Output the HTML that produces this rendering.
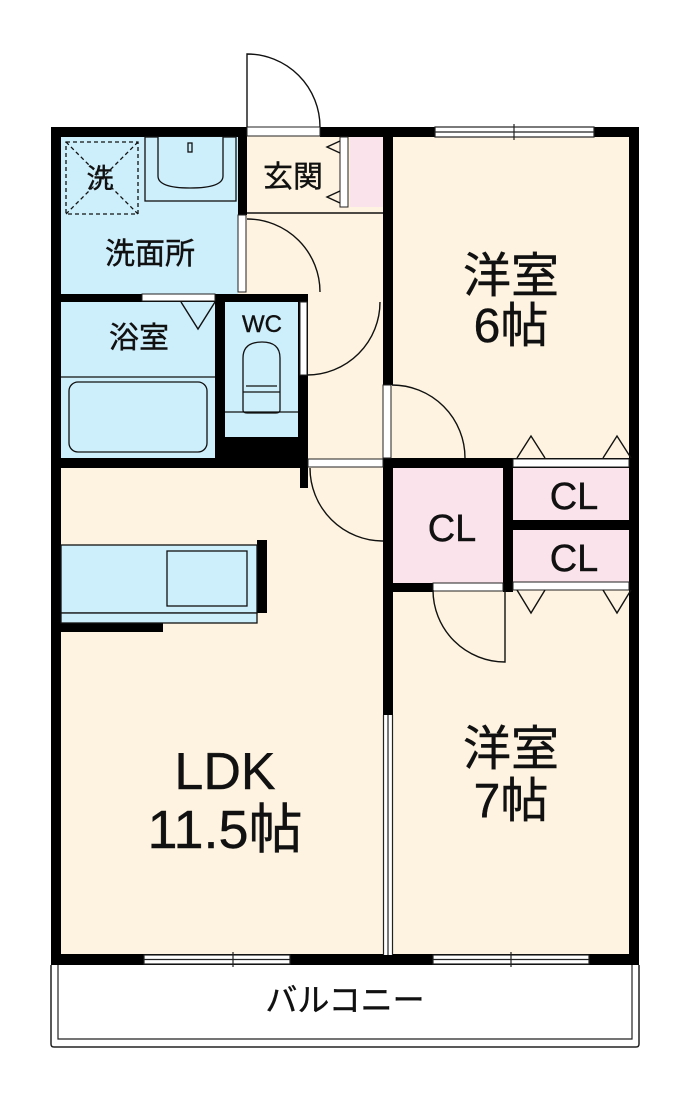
<!DOCTYPE html>
<html><head><meta charset="utf-8"><style>
html,body{margin:0;padding:0;background:#fff;}
svg{display:block;}
text{font-family:"Liberation Sans","Noto Sans CJK JP",sans-serif;fill:#111;text-anchor:middle;stroke:#111;stroke-width:0.4;}
</style></head><body>
<svg width="700" height="1120" viewBox="0 0 700 1120" xmlns="http://www.w3.org/2000/svg">
<rect x="51" y="127" width="588" height="838" fill="#fdf3e0"/>
<rect x="61" y="137" width="177" height="157" fill="#cdeefb"/>
<rect x="61" y="302" width="154" height="156" fill="#cdeefb"/>
<rect x="225" y="302" width="73" height="135" fill="#cdeefb"/>
<rect x="350" y="137" width="33" height="70" fill="#fbe3ec"/>
<rect x="392" y="468" width="112" height="115" fill="#fbe3ec"/>
<rect x="513" y="468" width="116" height="52" fill="#fbe3ec"/>
<rect x="513" y="530" width="116" height="52" fill="#fbe3ec"/>

<path d="M51 965 V1044 Q51 1047 54 1047 H636 Q639 1047 639 1044 V965" fill="#fff" stroke="#222" stroke-width="1.5"/>
<path d="M58 965 V1039 H632 V965" fill="none" stroke="#222" stroke-width="1.2"/>
<text x="345" y="1011" font-size="32">バルコニー</text>

<g fill="#000">
<rect x="51" y="127" width="196" height="10"/>
<rect x="320" y="127" width="319" height="10"/>
<rect x="51" y="127" width="10" height="838"/>
<rect x="629" y="127" width="10" height="838"/>
<rect x="51" y="954" width="588" height="11"/>
<rect x="238" y="127" width="9" height="88"/>
<rect x="51" y="294" width="257" height="8"/>
<rect x="215" y="294" width="10" height="170"/>
<rect x="298" y="294" width="10" height="174"/>
<rect x="215" y="437" width="93" height="31"/>
<rect x="51" y="458" width="257" height="10"/>
<rect x="300" y="468" width="8" height="20"/>
<rect x="383" y="127" width="10" height="258"/>
<rect x="383" y="458" width="255" height="10"/>
<rect x="383" y="458" width="10" height="257"/>
<rect x="503" y="458" width="10" height="134"/>
<rect x="513" y="520" width="120" height="10"/>
<rect x="383" y="583" width="50" height="9"/>
<rect x="257" y="540" width="10" height="73"/>
<rect x="51" y="623" width="112" height="9"/>
</g>

<g fill="#fff" stroke="#222" stroke-width="1">
<rect x="247" y="127" width="73" height="9"/>
<rect x="238" y="215" width="8" height="77"/>
<rect x="142" y="294" width="73" height="7"/>
<rect x="300" y="302" width="7" height="73"/>
<rect x="308" y="459" width="75" height="8"/>
<rect x="383" y="385" width="8" height="73"/>
<rect x="513" y="459" width="116" height="8"/>
<rect x="513" y="582" width="116" height="8"/>
<rect x="433" y="583" width="70" height="8"/>
<rect x="340" y="137" width="8" height="70"/>
</g>

<g fill="#fff" stroke="#222" stroke-width="1.2">
<rect x="435" y="127" width="159" height="10"/>
<rect x="144" y="955" width="146" height="9"/>
<rect x="433" y="955" width="156" height="9"/>
</g>
<g stroke="#222" stroke-width="1.2">
<line x1="435" y1="132" x2="594" y2="132"/>
<line x1="514" y1="124" x2="514" y2="140"/>
<line x1="144" y1="959.5" x2="290" y2="959.5"/>
<line x1="233" y1="952" x2="233" y2="967"/>
<line x1="433" y1="959.5" x2="589" y2="959.5"/>
<line x1="511" y1="952" x2="511" y2="967"/>
</g>
<rect x="383" y="715" width="10" height="240" fill="#fff"/>
<g stroke="#222" stroke-width="1.2">
<line x1="383.5" y1="715" x2="383.5" y2="955"/>
<line x1="388" y1="715" x2="388" y2="955"/>
<line x1="392.5" y1="715" x2="392.5" y2="955"/>
</g>

<g fill="none" stroke="#111" stroke-width="1.4">
<path d="M247 127 V54 A73 73 0 0 1 320 127"/>
<path d="M247 219 A73 73 0 0 1 320 292"/>
<path d="M380 302 A73 73 0 0 1 307 375"/>
<path d="M392 385 A73 73 0 0 1 465 458"/>
<path d="M310 468 A73 73 0 0 0 383 541"/>
<path d="M433 590 A72 72 0 0 0 505 662 V590"/>
<line x1="247" y1="213" x2="383" y2="213"/>
<path d="M340 141 L327 147 L340 153"/>
<path d="M340 191 L327 197 L340 203"/>
<path d="M181 302 L198 329 L215 302"/>
<path d="M517 458 L531 436 L545 458"/>
<path d="M603 458 L617 436 L631 458"/>
<path d="M517 590 L531 613 L545 590"/>
<path d="M603 590 L617 613 L631 590"/>
</g>

<g fill="none" stroke="#111" stroke-width="1.3">
<rect x="145" y="137" width="91" height="64" fill="#cdeefb"/>
<path d="M158 137 V176 Q158 188 190 188 Q223 188 223 176 V137" fill="#cdeefb"/>
<rect x="188" y="143" width="4" height="9"/>
<rect x="66" y="142" width="72" height="72" stroke-dasharray="4 3"/>
<line x1="66" y1="142" x2="138" y2="214" stroke-dasharray="4 3"/>
<line x1="138" y1="142" x2="66" y2="214" stroke-dasharray="4 3"/>
<line x1="61" y1="377" x2="215" y2="377"/>
<rect x="69" y="382" width="138" height="70" rx="9"/>
<path d="M243 410 V358 Q243 342 262 342 Q280 342 280 358 V410 Q280 413 276 413 H247 Q243 413 243 410 Z"/>
<line x1="243" y1="392" x2="280" y2="392"/>
<line x1="246" y1="386" x2="277" y2="386"/>
<line x1="225" y1="412" x2="298" y2="412"/>
<rect x="61" y="545" width="196" height="68" fill="#cdeefb"/>
<rect x="167" y="551" width="80" height="55"/>
<rect x="61" y="613" width="196" height="10" fill="#cdeefb"/>
</g>

<text x="100" y="188" font-size="27">洗</text>
<text x="150" y="264" font-size="30">洗面所</text>
<text x="139" y="348" font-size="30">浴室</text>
<text x="262" y="332" font-size="24">WC</text>
<text x="293" y="187" font-size="30">玄関</text>
<text x="511" y="292" font-size="48">洋室</text>
<text x="511" y="342" font-size="48">6帖</text>
<text x="452" y="541" font-size="38">CL</text>
<text x="574" y="509" font-size="38">CL</text>
<text x="574" y="571" font-size="38">CL</text>
<text x="511" y="765" font-size="48">洋室</text>
<text x="511" y="817" font-size="48">7帖</text>
<text x="225" y="789" font-size="52">LDK</text>
<text x="225" y="848" font-size="54">11.5帖</text>
</svg>
</body></html>
